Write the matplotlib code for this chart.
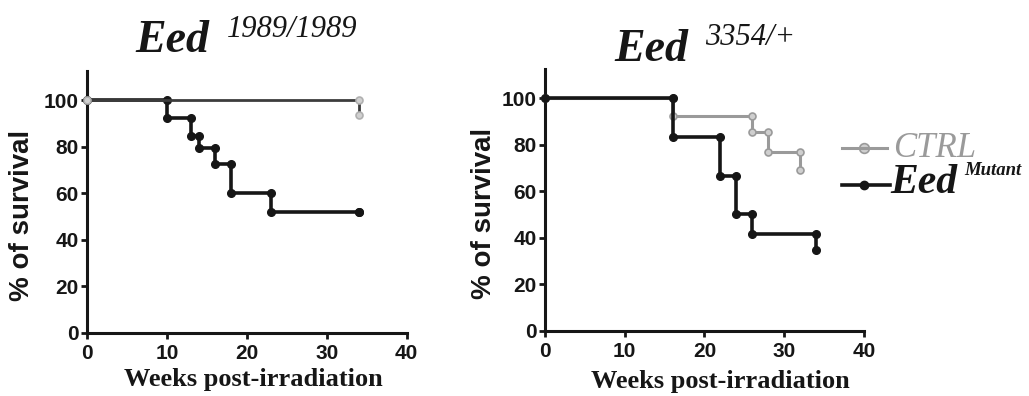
import matplotlib
matplotlib.use("Agg")
import matplotlib.pyplot as plt
from matplotlib.lines import Line2D

# Kaplan-Meier style survival, weeks post-irradiation
left_mut_t = [0, 10, 13, 14, 16, 18, 23, 34]
left_mut_s = [100, 92.3, 84.6, 79.5, 72.5, 60, 52, 52]
left_ctrl_t = [0, 34]
left_ctrl_s = [100, 93.5]

right_ctrl_t = [0, 16, 26, 28, 32]
right_ctrl_s = [100, 92.3, 85.4, 77, 69]
right_mut_t = [0, 16, 22, 24, 26, 34]
right_mut_s = [100, 83.3, 66.7, 50, 41.7, 34.7]

titles = [("Eed", "1989/1989"), ("Eed", "3354/+")]
x_ticks = [0, 10, 20, 30, 40]
y_ticks = [0, 20, 40, 60, 80, 100]

BLACK = "#161616"
GRAY = "#9a9a9a"
SANS = "Liberation Sans"
SERIF = "Liberation Serif"


def step_xy(t, s):
    # vertices of a post-step curve, every corner gets a marker
    xs, ys = [t[0]], [s[0]]
    for i in range(1, len(t)):
        xs += [t[i], t[i]]
        ys += [s[i - 1], s[i]]
    return xs, ys


def style_axes(ax):
    ax.set_xlim(0, 40)
    ax.set_ylim(0, 112.5)
    for side in ("top", "right"):
        ax.spines[side].set_visible(False)
    for side in ("left", "bottom"):
        ax.spines[side].set_linewidth(2.2)
        ax.spines[side].set_color(BLACK)
    ax.set_xticks(x_ticks)
    ax.set_yticks(y_ticks)
    ax.tick_params(direction="out", length=4, width=2, color=BLACK, pad=2)
    ax.tick_params(axis="x", pad=4)
    for lab in ax.get_xticklabels() + ax.get_yticklabels():
        lab.set_fontfamily(SANS)
        lab.set_fontweight("bold")
        lab.set_fontsize(15)
        lab.set_color(BLACK)
    ax.set_ylabel("% of survival", family=SANS, weight="bold", fontsize=20, color=BLACK)
    ax.set_xlabel("Weeks post-irradiation", family=SERIF, weight="bold", fontsize=19, color=BLACK)


fig = plt.figure(figsize=(10.29, 3.96), dpi=100)
ax1 = fig.add_axes([0.0848, 0.160, 0.3104, 0.660])
ax2 = fig.add_axes([0.5296, 0.165, 0.3100, 0.660])

# left panel
x, y = step_xy(left_mut_t, left_mut_s)
ax1.plot(x, y, color=BLACK, lw=2.6, marker="o", ms=5.5, clip_on=False, zorder=4)
x, y = step_xy(left_ctrl_t, left_ctrl_s)
ax1.plot(x, y, color="#3c3c3c", lw=2.0, marker="o", ms=5, mfc="#d0d0d0",
         mec="#b0b0b0", mew=1.2, clip_on=False, zorder=5)

# right panel
x, y = step_xy(right_ctrl_t, right_ctrl_s)
ax2.plot(x, y, color=GRAY, lw=2.2, marker="o", ms=5, mfc="#cfcfcf",
         mec=GRAY, mew=1.2, clip_on=False, zorder=3)
x, y = step_xy(right_mut_t, right_mut_s)
ax2.plot(x, y, color=BLACK, lw=2.6, marker="o", ms=5.5, clip_on=False, zorder=4)

for ax in (ax1, ax2):
    style_axes(ax)
ax1.yaxis.set_label_coords(-0.165, 0.45)
ax2.yaxis.set_label_coords(-0.15, 0.45)
ax1.xaxis.set_label_coords(0.52, -0.135)
ax2.xaxis.set_label_coords(0.55, -0.15)

# titles (figure pixel positions converted to fractions)
W, H = 1029.0, 396.0
fig.text(135 / W, 1 - 52 / H, titles[0][0], family=SERIF, weight="bold", style="italic",
         fontsize=33, color=BLACK, va="baseline")
fig.text(227 / W, 1 - 37 / H, titles[0][1], family=SERIF, style="italic",
         fontsize=22, color=BLACK, va="baseline")
fig.text(614 / W, 1 - 61 / H, titles[1][0], family=SERIF, weight="bold", style="italic",
         fontsize=33, color=BLACK, va="baseline")
fig.text(705 / W, 1 - 45 / H, titles[1][1], family=SERIF, style="italic",
         fontsize=22, color=BLACK, va="baseline")

# legend drawn by hand to get the mixed fonts
fig.add_artist(Line2D([842 / W, 887 / W], [1 - 148 / H] * 2, transform=fig.transFigure,
                      color=GRAY, lw=2.2, zorder=3))
fig.add_artist(Line2D([864 / W], [1 - 148 / H], transform=fig.transFigure,
                      color=GRAY, marker="o", ms=7, mfc="#cfcfcf", mec=GRAY, mew=1.2, lw=0))
fig.add_artist(Line2D([842 / W, 890 / W], [1 - 185 / H] * 2, transform=fig.transFigure,
                      color=BLACK, lw=2.6))
fig.add_artist(Line2D([864 / W], [1 - 185 / H], transform=fig.transFigure,
                      color=BLACK, marker="o", ms=6, lw=0))
fig.text(893 / W, 1 - 157 / H, "CTRL", family=SERIF, style="italic", fontsize=25,
         color=GRAY, va="baseline")
fig.text(890 / W, 1 - 193 / H, "Eed", family=SERIF, weight="bold", style="italic",
         fontsize=30, color=BLACK, va="baseline")
fig.text(964 / W, 1 - 175 / H, "Mutant", family=SERIF, weight="bold", style="italic",
         fontsize=13.5, color=BLACK, va="baseline")

fig.savefig("out.png", dpi=100)
